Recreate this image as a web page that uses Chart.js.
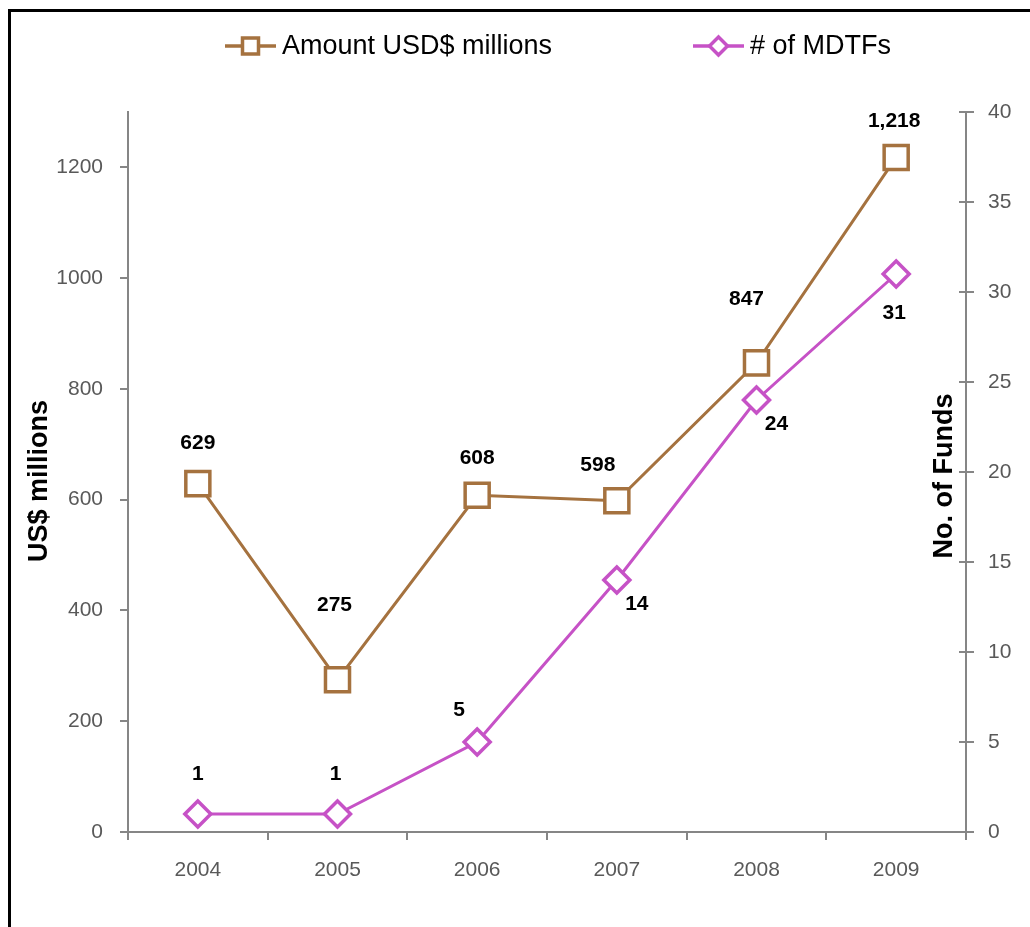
<!DOCTYPE html>
<html>
<head>
<meta charset="utf-8">
<script src="https://cdn.jsdelivr.net/npm/chart.js@4/dist/chart.umd.min.js"></script>
<style>
  body { margin: 0; background: #fff; overflow: hidden; }
  #wrap { position: relative; width: 1030px; height: 927px; }
  #frame { position: absolute; left: 8px; top: 9px; width: 1030px; height: 930px;
           border-top: 3px solid #000; border-left: 3px solid #000; pointer-events: none; }
  canvas { position: absolute; left: 0; top: 0; }
</style>
</head>
<body>
<div id="wrap">
  <canvas id="mdtfChart" width="1030" height="927"></canvas>
  <div id="frame"></div>
</div>
<script>
// data
var years = ['2004', '2005', '2006', '2007', '2008', '2009'];
var amountUSD = [629, 275, 608, 598, 847, 1218];
var numFunds = [1, 1, 5, 14, 24, 31];
var amountLabel = 'Amount USD$ millions';
var fundsLabel = '# of MDTFs';

var BROWN = '#a5723f';
var MAGENTA = '#c652c6';
var AXIS = '#868686';
var TICKTXT = '#595959';

// where each value label sits relative to its point (dx, dy)
var amountOffsets = [[0, -40], [-3, -74], [0, -37], [-19, -36], [-10, -64], [-2, -36]];
var fundsOffsets = [[0, -40], [-2, -40], [-18, -32], [20, 24], [20, 24], [-2, 39]];

var extras = {
    id: 'extras',
    afterDatasetsDraw: function (chart) {
        var ctx = chart.ctx;
        ctx.save();

        // value labels
        ctx.font = 'bold 21px "Liberation Sans", Arial, sans-serif';
        ctx.fillStyle = '#000';
        ctx.textAlign = 'center';
        ctx.textBaseline = 'middle';
        var sets = [[0, amountOffsets], [1, fundsOffsets]];
        sets.forEach(function (s) {
            var meta = chart.getDatasetMeta(s[0]);
            var vals = chart.data.datasets[s[0]].data;
            meta.data.forEach(function (pt, i) {
                var txt = vals[i].toLocaleString('en-US');
                ctx.fillText(txt, pt.x + s[1][i][0], pt.y + s[1][i][1]);
            });
        });

        // right axis tick marks also cross inwards
        var yr = chart.scales.yR;
        ctx.strokeStyle = AXIS;
        ctx.lineWidth = 2;
        yr.ticks.forEach(function (t) {
            var y = Math.round(yr.getPixelForValue(t.value));
            ctx.beginPath();
            ctx.moveTo(yr.left - 7, y);
            ctx.lineTo(yr.left, y);
            ctx.stroke();
        });

        // axis titles (both read bottom to top)
        ctx.font = 'bold 27px "Liberation Sans", Arial, sans-serif';
        ctx.fillStyle = '#000';
        ctx.save();
        ctx.translate(40, 481);
        ctx.rotate(-Math.PI / 2);
        ctx.fillText('US$ millions', 0, 0);
        ctx.restore();
        ctx.save();
        ctx.translate(945, 476);
        ctx.rotate(-Math.PI / 2);
        ctx.fillText('No. of Funds', 0, 0);
        ctx.restore();

        // legend: line with marker in the middle
        var items = [
            { x: 225, label: amountLabel, color: BROWN, shape: 'rect' },
            { x: 693, label: fundsLabel, color: MAGENTA, shape: 'rectRot' }
        ];
        var ly = 46;
        items.forEach(function (it) {
            ctx.strokeStyle = it.color;
            ctx.lineWidth = 3.5;
            ctx.beginPath();
            ctx.moveTo(it.x, ly);
            ctx.lineTo(it.x + 51, ly);
            ctx.stroke();
            ctx.fillStyle = '#fff';
            ctx.beginPath();
            if (it.shape === 'rect') {
                ctx.rect(it.x + 25.5 - 8, ly - 8, 16, 16);
            } else {
                ctx.moveTo(it.x + 25.5 - 9, ly);
                ctx.lineTo(it.x + 25.5, ly - 9);
                ctx.lineTo(it.x + 25.5 + 9, ly);
                ctx.lineTo(it.x + 25.5, ly + 9);
                ctx.closePath();
            }
            ctx.fill();
            ctx.stroke();
            ctx.fillStyle = '#000';
            ctx.textAlign = 'left';
            ctx.font = '27px "Liberation Sans", Arial, sans-serif';
            ctx.fillText(it.label, it.x + 57, ly + 1);
        });

        ctx.restore();
    }
};

var ctx = document.getElementById('mdtfChart').getContext('2d');
var tickFont = { family: '"Liberation Sans", Arial, sans-serif', size: 21 };
var plainTick = function (value) { return String(value); };

window.mdtfChart = new Chart(ctx, {
    type: 'line',
    data: {
        labels: years,
        datasets: [{
            label: amountLabel,
            data: amountUSD,
            yAxisID: 'yL',
            borderColor: BROWN,
            borderWidth: 3,
            backgroundColor: '#fff',
            pointStyle: 'rect',
            pointRadius: 17,
            pointBorderWidth: 3.5,
            pointBorderColor: BROWN,
            pointBackgroundColor: '#fff',
            tension: 0
        }, {
            label: fundsLabel,
            data: numFunds,
            yAxisID: 'yR',
            borderColor: MAGENTA,
            borderWidth: 3,
            backgroundColor: '#fff',
            pointStyle: 'rectRot',
            pointRadius: 13,
            pointBorderWidth: 3.5,
            pointBorderColor: MAGENTA,
            pointBackgroundColor: '#fff',
            tension: 0
        }]
    },
    options: {
        responsive: false,
        animation: false,
        layout: { padding: { top: 112, left: 0, right: 0, bottom: 0 } },
        plugins: {
            legend: { display: false },
            tooltip: { enabled: false }
        },
        scales: {
            x: {
                offset: true,
                grid: { offset: true, drawOnChartArea: false, color: AXIS, lineWidth: 2, tickLength: 8 },
                border: { color: AXIS, width: 2 },
                ticks: { color: TICKTXT, font: tickFont, padding: 18, maxRotation: 0 },
                afterFit: function (axis) { axis.height = 95; }
            },
            yL: {
                position: 'left',
                min: 0,
                max: 1300,
                ticks: { stepSize: 200, color: TICKTXT, font: tickFont, padding: 17, callback: plainTick },
                grid: { drawOnChartArea: false, color: AXIS, lineWidth: 2, tickLength: 8 },
                border: { color: AXIS, width: 2 },
                afterBuildTicks: function (axis) {
                    axis.ticks = axis.ticks.filter(function (t) { return t.value <= 1200; });
                },
                afterFit: function (axis) { axis.width = 128; }
            },
            yR: {
                position: 'right',
                min: 0,
                max: 40,
                ticks: { stepSize: 5, color: TICKTXT, font: tickFont, padding: 14, callback: plainTick },
                grid: { drawOnChartArea: false, color: AXIS, lineWidth: 2, tickLength: 8 },
                border: { color: AXIS, width: 2 },
                afterFit: function (axis) { axis.width = 64; }
            }
        }
    },
    plugins: [extras]
});
</script>
</body>
</html>
